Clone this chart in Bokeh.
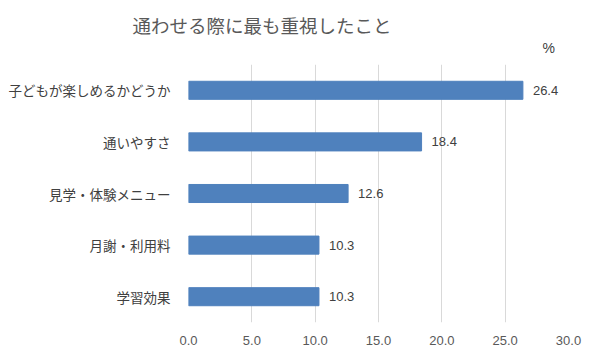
from bokeh.plotting import figure
from bokeh.models import ColumnDataSource, Title, Range1d, FixedTicker, CustomJSTickFormatter
from bokeh.core.properties import value
from bokeh.embed import file_html
from bokeh.resources import INLINE

categories = ["子どもが楽しめるかどうか", "通いやすさ", "見学・体験メニュー", "月謝・利用料", "学習効果"]
values = [26.4, 18.4, 12.6, 10.3, 10.3]
x_ticks = [0, 5, 10, 15, 20, 25, 30]
title_text = "通わせる際に最も重視したこと"
unit_text = "%"

JP = "Noto Sans CJK JP"
NUM = "Liberation Sans"

W, H = 596, 355
FL, FR, FT, FB = 188, 568, 64, 322
XMAX = 30
p = figure(width=W, height=H, y_range=list(reversed(categories)),
           x_range=Range1d(0, XMAX), output_backend="svg", toolbar_location=None,
           min_border_left=FL, min_border_right=W - FR,
           min_border_top=FT, min_border_bottom=H - FB)
p.outline_line_color = None
p.background_fill_color = "white"
p.border_fill_color = "white"

src = ColumnDataSource(dict(cat=categories, val=values,
                            lab=["%.1f" % v for v in values]))
p.hbar(y="cat", right="val", left=0, height=0.35, source=src,
       fill_color="#4f81bd", line_color="#4f81bd")
p.text(x="val", y="cat", text="lab", source=src, x_offset=10,
       text_baseline="middle", text_align="left", text_font=value(NUM),
       text_font_size="13px", text_color="#404040")

p.xaxis.ticker = FixedTicker(ticks=x_ticks)
p.xaxis.formatter = CustomJSTickFormatter(code="return tick.toFixed(1);")
p.xaxis.axis_line_color = None
p.xaxis.major_tick_line_color = None
p.xaxis.minor_tick_line_color = None
p.xaxis.major_label_text_font = NUM
p.xaxis.major_label_text_font_size = "13px"
p.xaxis.major_label_text_color = "#595959"
p.xaxis.major_label_standoff = 7

p.yaxis.axis_line_color = None
p.yaxis.major_tick_line_color = None
p.yaxis.minor_tick_line_color = None
p.yaxis.major_label_text_font = JP
p.yaxis.major_label_text_font_size = "13.5px"
p.yaxis.major_label_text_color = "#404040"
p.yaxis.major_label_standoff = 12

p.xgrid.grid_line_color = "#d9d9d9"
p.ygrid.grid_line_color = None

p.add_layout(Title(text=unit_text, text_font=NUM, text_font_size="14px",
                   text_color="#404040", text_font_style="normal",
                   align="left", offset=542 - FL, standoff=17), "above")
p.add_layout(Title(text=title_text, text_font=JP, text_font_size="18.5px",
                   text_color="#595959", text_font_style="normal",
                   align="left", offset=132 - FL, standoff=-16), "above")

open("out.html", "w").write(file_html(p, INLINE))
